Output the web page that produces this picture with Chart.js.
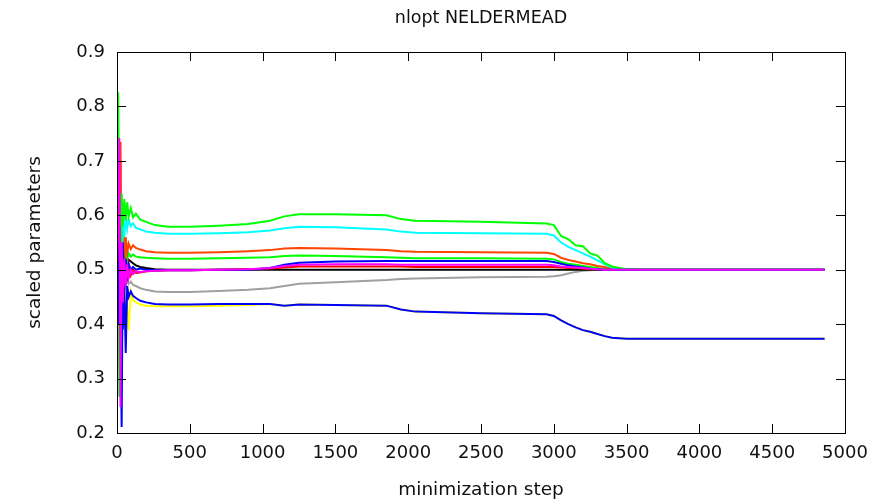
<!DOCTYPE html>
<html>
<head>
<meta charset="utf-8">
<title>nlopt NELDERMEAD</title>
<script src="https://cdn.jsdelivr.net/npm/chart.js@4.4.1/dist/chart.umd.min.js"></script>
<style>
  html, body { margin: 0; padding: 0; background: #fff; }
  canvas { display: block; }
</style>
</head>
<body>
<canvas id="myChart" width="890" height="502"></canvas>
<script>
// minimization steps at which the parameters were sampled
const steps = [0, 8, 16, 24, 32, 40, 50, 60, 70, 80, 95, 110, 130, 160, 200, 260, 350, 500, 700, 900,
  1050, 1150, 1250, 1500, 1850, 1950, 2050, 2500, 2950, 3000, 3050, 3100, 3150, 3200, 3250, 3300,
  3350, 3400, 3450, 3500, 3600, 4000, 4860];

// scaled parameter values, one array per parameter
const yellowPar = [0.45, 0.52, 0.38, 0.56, 0.43, 0.50, 0.41, 0.48, 0.43, 0.389, 0.46, 0.445, 0.440, 0.436, 0.434, 0.433, 0.433, 0.433, 0.434, 0.435,
  0.437, 0.434, 0.436, 0.435, 0.434, 0.427, 0.423, 0.420, 0.418, 0.415, 0.407, 0.400, 0.394, 0.389, 0.386, 0.382,
  0.378, 0.375, 0.374, 0.373, 0.373, 0.373, 0.373];
const grayPar = [0.50, 0.43, 0.52, 0.44, 0.49, 0.417, 0.48, 0.47, 0.483, 0.474, 0.478, 0.472, 0.470, 0.466, 0.463, 0.460, 0.459, 0.459, 0.461, 0.463,
  0.466, 0.470, 0.474, 0.477, 0.481, 0.483, 0.484, 0.486, 0.487, 0.488, 0.490, 0.493, 0.496, 0.498, 0.499, 0.500,
  0.500, 0.500, 0.500, 0.500, 0.500, 0.500, 0.500];
const blackPar = [0.50, 0.44, 0.56, 0.48, 0.54, 0.50, 0.53, 0.51, 0.52, 0.518, 0.515, 0.512, 0.508, 0.505, 0.503, 0.501, 0.500, 0.500, 0.500, 0.500,
  0.500, 0.500, 0.500, 0.500, 0.500, 0.500, 0.500, 0.500, 0.500, 0.500, 0.500, 0.500, 0.500, 0.500, 0.500, 0.500,
  0.500, 0.500, 0.500, 0.500, 0.500, 0.500, 0.500];
const redPar = [0.50, 0.62, 0.48, 0.70, 0.30, 0.56, 0.46, 0.53, 0.48, 0.51, 0.49, 0.50, 0.494, 0.495, 0.497, 0.498, 0.499, 0.499, 0.500, 0.501,
  0.502, 0.504, 0.506, 0.506, 0.506, 0.506, 0.505, 0.505, 0.505, 0.505, 0.504, 0.503, 0.503, 0.502, 0.501, 0.501,
  0.500, 0.500, 0.500, 0.500, 0.500, 0.500, 0.500];
const green2Par = [0.48, 0.55, 0.266, 0.57, 0.50, 0.54, 0.515, 0.535, 0.52, 0.53, 0.524, 0.528, 0.524, 0.523, 0.522, 0.521, 0.520, 0.520, 0.521, 0.522,
  0.523, 0.525, 0.526, 0.525, 0.523, 0.522, 0.521, 0.521, 0.520, 0.519, 0.514, 0.511, 0.509, 0.507, 0.505, 0.503,
  0.502, 0.501, 0.500, 0.500, 0.500, 0.500, 0.500];
const orangePar = [0.50, 0.56, 0.48, 0.735, 0.45, 0.60, 0.52, 0.56, 0.53, 0.548, 0.538, 0.545, 0.540, 0.537, 0.534, 0.532, 0.531, 0.531, 0.532, 0.534,
  0.536, 0.539, 0.540, 0.539, 0.536, 0.534, 0.533, 0.532, 0.531, 0.529, 0.522, 0.518, 0.515, 0.512, 0.510, 0.507,
  0.505, 0.502, 0.501, 0.500, 0.500, 0.500, 0.500];
const cyanPar = [0.55, 0.66, 0.52, 0.60, 0.45, 0.59, 0.56, 0.598, 0.575, 0.592, 0.580, 0.585, 0.577, 0.574, 0.570, 0.568, 0.566, 0.566, 0.567, 0.569,
  0.572, 0.576, 0.579, 0.578, 0.574, 0.570, 0.568, 0.567, 0.566, 0.563, 0.550, 0.542, 0.536, 0.530, 0.524, 0.517,
  0.510, 0.504, 0.502, 0.500, 0.500, 0.500, 0.500];
const green1Par = [0.62, 0.826, 0.60, 0.27, 0.64, 0.58, 0.63, 0.59, 0.624, 0.598, 0.613, 0.596, 0.603, 0.592, 0.588, 0.582, 0.579, 0.579, 0.581, 0.584,
  0.590, 0.598, 0.602, 0.602, 0.600, 0.593, 0.590, 0.588, 0.585, 0.582, 0.562, 0.556, 0.545, 0.543, 0.530, 0.526,
  0.512, 0.506, 0.503, 0.501, 0.500, 0.500, 0.500];
const blue1Par = [0.50, 0.45, 0.58, 0.40, 0.211, 0.55, 0.47, 0.52, 0.49, 0.51, 0.50, 0.505, 0.500, 0.502, 0.500, 0.499, 0.499, 0.499, 0.500, 0.500,
  0.503, 0.509, 0.513, 0.515, 0.516, 0.516, 0.516, 0.516, 0.516, 0.514, 0.511, 0.508, 0.506, 0.504, 0.502, 0.501,
  0.500, 0.500, 0.500, 0.500, 0.500, 0.500, 0.500];
const blue2Par = [0.50, 0.40, 0.52, 0.42, 0.46, 0.39, 0.47, 0.347, 0.47, 0.45, 0.46, 0.452, 0.448, 0.443, 0.440, 0.437, 0.436, 0.436, 0.437, 0.437,
  0.437, 0.434, 0.436, 0.435, 0.434, 0.427, 0.423, 0.420, 0.418, 0.415, 0.407, 0.400, 0.394, 0.389, 0.386, 0.382,
  0.378, 0.375, 0.374, 0.373, 0.373, 0.373, 0.373];
const magentaPar = [0.50, 0.60, 0.742, 0.248, 0.55, 0.44, 0.52, 0.47, 0.51, 0.485, 0.50, 0.492, 0.497, 0.496, 0.497, 0.498, 0.499, 0.499, 0.500, 0.501,
  0.503, 0.507, 0.509, 0.510, 0.510, 0.509, 0.509, 0.509, 0.509, 0.508, 0.506, 0.505, 0.504, 0.503, 0.502, 0.501,
  0.500, 0.500, 0.500, 0.500, 0.500, 0.500, 0.500];

const xTicks = [0, 500, 1000, 1500, 2000, 2500, 3000, 3500, 4000, 4500, 5000];
const yTicks = [0.2, 0.3, 0.4, 0.5, 0.6, 0.7, 0.8, 0.9];

// listed top-most first: Chart.js paints dataset 0 last
const params = [
  { values: magentaPar, color: "#ff00ff" },
  { values: blue2Par, color: "#0000ff" },
  { values: blue1Par, color: "#0000ff" },
  { values: green1Par, color: "#00ff00" },
  { values: cyanPar, color: "#00ffff" },
  { values: orangePar, color: "#ff4500" },
  { values: green2Par, color: "#00ff00" },
  { values: redPar, color: "#ff0000" },
  { values: blackPar, color: "#000000" },
  { values: grayPar, color: "#a0a0a0" },
  { values: yellowPar, color: "#ffff00" },
];

// gnuplot-like border with inward ticks on all four sides
const framePlugin = {
  id: "frame",
  afterDatasetsDraw(chart) {
    const { ctx, chartArea: a, scales } = chart;
    const len = 9;
    ctx.save();
    ctx.strokeStyle = "#000";
    ctx.lineWidth = 1;
    ctx.beginPath();
    xTicks.forEach((v) => {
      const x = Math.round(scales.x.getPixelForValue(v)) + 0.5;
      ctx.moveTo(x, a.bottom);
      ctx.lineTo(x, a.bottom - len);
      ctx.moveTo(x, a.top);
      ctx.lineTo(x, a.top + len);
    });
    yTicks.forEach((v) => {
      const y = Math.round(scales.y.getPixelForValue(v)) + 0.5;
      ctx.moveTo(a.left, y);
      ctx.lineTo(a.left + len, y);
      ctx.moveTo(a.right, y);
      ctx.lineTo(a.right - len, y);
    });
    ctx.stroke();
    ctx.strokeRect(Math.round(a.left) + 0.5, Math.round(a.top) + 0.5,
      Math.round(a.right - a.left), Math.round(a.bottom - a.top));
    ctx.restore();
  },
};

const font = "'DejaVu Sans', sans-serif";

new Chart(document.getElementById("myChart"), {
  type: "line",
  data: {
    datasets: params.map((p) => ({
      data: steps.map((s, i) => ({ x: s, y: p.values[i] })),
      borderColor: p.color,
      backgroundColor: "transparent",
      borderWidth: 2,
      pointRadius: 0,
      lineTension: 0,
    })),
  },
  options: {
    responsive: false,
    animation: false,
    devicePixelRatio: 1,
    layout: { padding: { left: 0, right: 45, top: 0, bottom: 0 } },
    plugins: {
      legend: { display: false },
      tooltip: { enabled: false },
      title: {
        display: true,
        text: "nlopt NELDERMEAD",
        fullSize: false,
        color: "#111",
        font: { family: font, size: 17.5, weight: "normal" },
        padding: { top: 8, bottom: 23 },
      },
    },
    scales: {
      x: {
        type: "linear",
        min: 0,
        max: 5000,
        afterFit: (s) => { s.height = 69; },
        afterBuildTicks: (s) => { s.ticks = xTicks.map((v) => ({ value: v })); },
        grid: { display: false, drawTicks: false },
        border: { display: false },
        ticks: {
          color: "#111",
          padding: 10,
          font: { family: font, size: 18 },
          maxRotation: 0,
          callback: (v) => String(v),
        },
        title: {
          display: true,
          text: "minimization step",
          color: "#111",
          font: { family: font, size: 18.5 },
          padding: { top: 0, bottom: 1 },
        },
      },
      y: {
        min: 0.2,
        max: 0.9,
        afterFit: (s) => { s.width = 117; },
        afterBuildTicks: (s) => { s.ticks = yTicks.map((v) => ({ value: v })); },
        grid: { display: false, drawTicks: false },
        border: { display: false },
        ticks: {
          color: "#111",
          padding: 12,
          font: { family: font, size: 18 },
          callback: (v) => v.toFixed(1),
        },
        title: {
          display: true,
          text: "scaled parameters",
          color: "#111",
          font: { family: font, size: 18.5 },
          padding: { top: 24, bottom: 0 },
        },
      },
    },
  },
  plugins: [framePlugin],
});
</script>
</body>
</html>
